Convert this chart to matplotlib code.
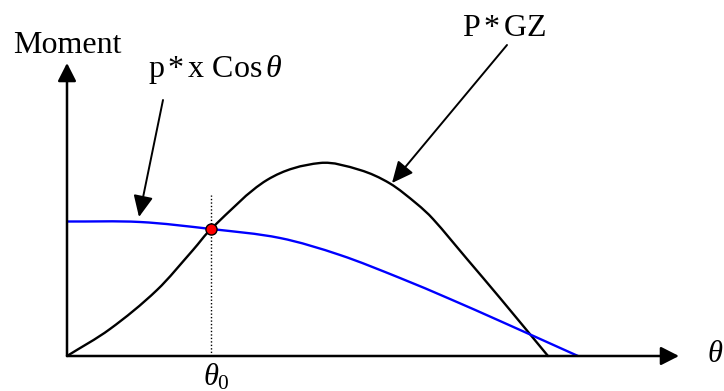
import numpy as np
import matplotlib
matplotlib.use("Agg")
import matplotlib.pyplot as plt
from matplotlib.path import Path
from matplotlib.patches import PathPatch

plt.rcParams['font.family'] = ['Liberation Serif', 'DejaVu Serif']
plt.rcParams['mathtext.fontset'] = 'custom'
plt.rcParams['mathtext.rm'] = 'Liberation Serif'
plt.rcParams['mathtext.it'] = 'Liberation Serif:italic'

# heel angle (arbitrary units along the axis) and moment values
gz_theta = [0, 43, 90, 126, 144, 200, 253, 293, 323, 350, 366, 400, 433, 481]
gz_moment = [0, 27, 66, 106, 127, 176, 193, 186, 172.5, 152, 137, 97, 58, 0]

cos_theta = [0, 73, 144, 213, 273, 333, 383, 433, 511]
cos_moment = [134.5, 134, 127, 118, 101, 78, 57, 35, 0]

theta0 = 144
moment0 = 127
theta_max = 612
moment_max = 293


def smooth_curve(ax, xs, ys, **kw):
    # smooth bezier path through the read points (hermite in x)
    x = np.asarray(xs, float)
    y = np.asarray(ys, float)
    m = np.empty_like(y)
    m[1:-1] = (y[2:] - y[:-2]) / (x[2:] - x[:-2])
    m[0] = (y[1] - y[0]) / (x[1] - x[0])
    m[-1] = (y[-1] - y[-2]) / (x[-1] - x[-2])
    verts = [(x[0], y[0])]
    codes = [Path.MOVETO]
    for i in range(len(x) - 1):
        h = (x[i + 1] - x[i]) / 3.0
        verts += [(x[i] + h, y[i] + m[i] * h),
                  (x[i + 1] - h, y[i + 1] - m[i + 1] * h),
                  (x[i + 1], y[i + 1])]
        codes += [Path.CURVE4] * 3
    ax.add_patch(PathPatch(Path(verts, codes), fill=False, **kw))


fig = plt.figure(figsize=(7.24, 3.91), dpi=100)
ax = fig.add_axes([0, 0, 1, 1])
ax.set_xlim(-67, 657)
ax.set_ylim(-35, 356)
ax.axis('off')

# axes with arrow heads
head = '-|>,head_length=11,head_width=5.6'
ax.annotate('', xy=(theta_max, 0), xytext=(0, 0),
            arrowprops=dict(arrowstyle=head, lw=1.8, color='black',
                            shrinkA=0, shrinkB=0, mutation_scale=1))
ax.annotate('', xy=(0, moment_max), xytext=(0, 0),
            arrowprops=dict(arrowstyle=head, lw=1.8, color='black',
                            shrinkA=0, shrinkB=0, mutation_scale=1))

smooth_curve(ax, gz_theta, gz_moment, edgecolor='black', lw=1.7,
             capstyle='round')
smooth_curve(ax, cos_theta, cos_moment, edgecolor='#0000ff', lw=1.7,
             capstyle='butt')

ax.plot([theta0, theta0], [0, 161], color='black', lw=1, ls=(0, (1, 1.5)))
ax.plot([theta0], [moment0], 'o', ms=8, mfc='red', mec='black', mew=1,
        zorder=5)

# labels with pointer arrows
ptr = '-|>,head_length=13,head_width=6'
ax.annotate('', xy=(72, 139), xytext=(96, 256),
            arrowprops=dict(arrowstyle=ptr, lw=1.4, color='black',
                            shrinkA=0, shrinkB=0, mutation_scale=1))
ax.annotate('', xy=(325, 173), xytext=(440, 311),
            arrowprops=dict(arrowstyle=ptr, lw=1.4, color='black',
                            shrinkA=0, shrinkB=0, mutation_scale=1))

ax.text(-54, 303, 'Moment', fontsize=23, ha='left', va='baseline')
ax.text(81, 279, r'p$\,$*$\,$x Cos$\,\mathit{\theta}$', fontsize=23,
        ha='left', va='baseline')
ax.text(395, 320, r'P$\,$*$\,$GZ', fontsize=23, ha='left', va='baseline')
ax.text(theta0 - 8, -29, r'$\mathit{\theta}_{\mathrm{0}}$', fontsize=22,
        ha='left', va='baseline')
ax.text(640, -6, r'$\mathit{\theta}$', fontsize=22, ha='left', va='baseline')

fig.savefig('out.png', dpi=100)
